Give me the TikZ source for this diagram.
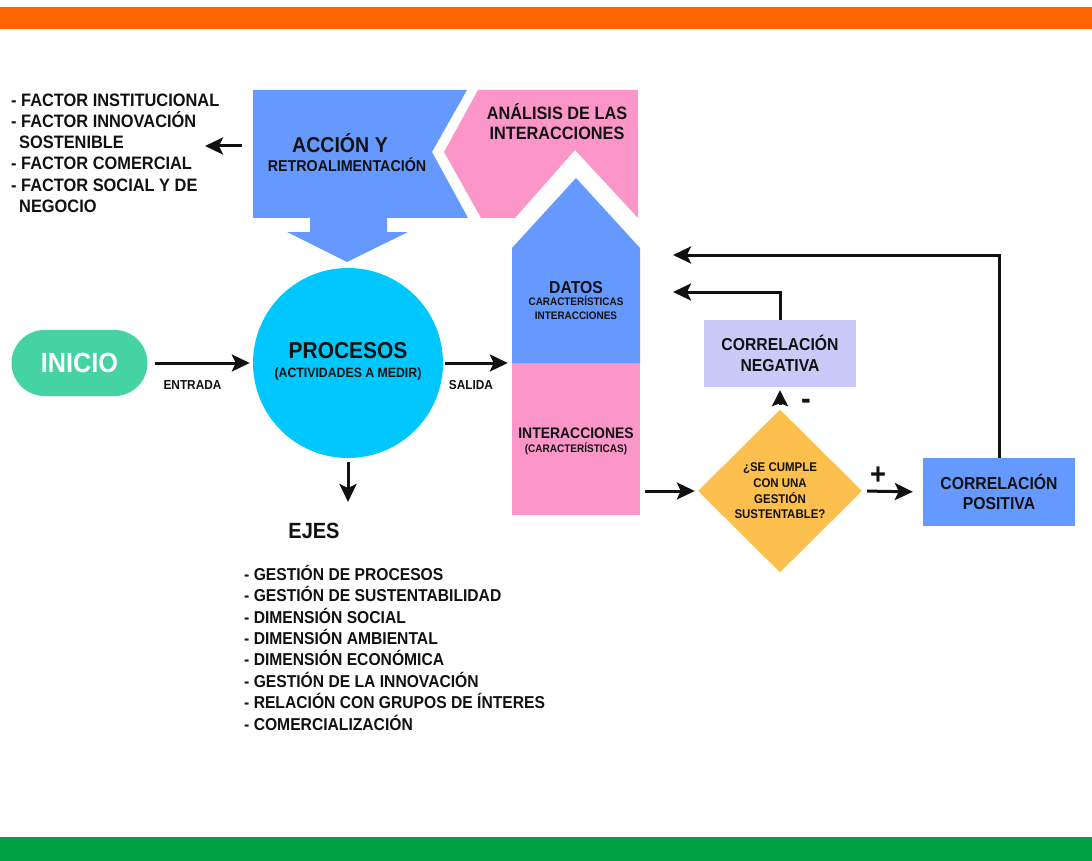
\documentclass[tikz,border=0pt]{standalone}
\usepackage{fontspec}
\setmainfont{Liberation Sans}[FakeStretch=0.91]
\usetikzlibrary{shapes.geometric,arrows.meta}
\definecolor{barOrange}{HTML}{FF6600}
\definecolor{barGreen}{HTML}{00A045}
\definecolor{startC}{HTML}{46D3A4}
\definecolor{procC}{HTML}{00C8FF}
\definecolor{blueC}{HTML}{6699FF}
\definecolor{pinkC}{HTML}{FC96C8}
\definecolor{lavC}{HTML}{CACAF8}
\definecolor{diaC}{HTML}{FDC04F}
\definecolor{inkC}{HTML}{111111}
\newcommand{\fsz}[2]{\fontsize{#1}{#2}\selectfont}
\begin{document}
\begin{tikzpicture}[x=1pt,y=-1pt,
  txt/.style={inner sep=0pt, anchor=base, text=inkC, font=\bfseries},
  ltxt/.style={inner sep=0pt, anchor=base west, text=inkC, font=\bfseries\fsz{18}{21}},
  arr/.style={draw=inkC, line width=3pt, -{Stealth[length=18pt,width=17pt,inset=4pt]}},
  fbline/.style={draw=inkC, line width=3pt, -{Stealth[length=18pt,width=17pt,inset=4pt]}},
  box/.style={rectangle, inner sep=0pt, align=center, text=inkC, font=\bfseries\fsz{17.3}{20.5}},
  ghost/.style={rectangle, inner sep=0pt, draw=none}]
\useasboundingbox (0,0) rectangle (1092,861);
% bars
\fill[barOrange] (0,7) rectangle (1092,29);
\fill[barGreen] (0,837) rectangle (1092,861);

% Accion y retroalimentacion shape
\fill[blueC] (253,90) -- (467,90) -- (432,152) -- (468,218) -- (387,218) -- (387,232)
  -- (408,232) -- (347,262) -- (287,232) -- (310,232) -- (310,218) -- (253,218) -- cycle;
\node[ghost, minimum width=215pt, minimum height=128pt] (accion) at (360.5,154) {};
\node[txt, font=\bfseries\fsz{21.5}{24}] (accT1) at (340,152.7) {ACCIÓN Y};
\node[txt, font=\bfseries\fsz{15.7}{18}] (accT2) at (347,171.6) {RETROALIMENTACIÓN};

% Analisis de las interacciones shape
\fill[pinkC] (478,90) -- (638,90) -- (638,218) -- (575,150) -- (515,218) -- (481,218)
  -- (444,152) -- cycle;
\node[txt, font=\bfseries\fsz{17.9}{20}] (anaT1) at (557,119.9) {ANÁLISIS DE LAS};
\node[txt, font=\bfseries\fsz{17.9}{20}] (anaT2) at (557,139.9) {INTERACCIONES};

% Datos / interacciones column
\fill[pinkC] (512,363) rectangle (640,515);
\fill[blueC] (512,363) -- (512,248) -- (576,178) -- (640,248) -- (640,363) -- cycle;
\node[ghost, minimum width=128pt, minimum height=337pt] (datoscol) at (576,346.5) {};
\node[txt, font=\bfseries\fsz{17.3}{20}] (datT1) at (576,293.7) {DATOS};
\node[txt, font=\bfseries\fsz{10.9}{12}] (datT2) at (576,305.9) {CARACTERÍSTICAS};
\node[txt, font=\bfseries\fsz{10.9}{12}] (datT3) at (576,319.4) {INTERACCIONES};
\node[txt, font=\bfseries\fsz{15.3}{18}] (intT1) at (576,438) {INTERACCIONES};
\node[txt, font=\bfseries\fsz{11}{13}] (intT2) at (576,452.5) {(CARACTERÍSTICAS)};

% factors list
\foreach \t [count=\i from 0] in {- FACTOR INSTITUCIONAL, - FACTOR INNOVACIÓN,
  \hspace*{8pt}SOSTENIBLE, - FACTOR COMERCIAL, - FACTOR SOCIAL Y DE, \hspace*{8pt}NEGOCIO}
  \node[ltxt] (fac\i) at (11,106.4+21.2*\i) {\t};
\coordinate (factarr) at (205,146);
\draw[arr, shorten <=11pt] (accion.west |- factarr) -- (factarr);

% Inicio
\node[rectangle, rounded corners=33pt, fill=startC, minimum width=136pt, minimum height=66pt,
  inner sep=0pt, text=white, font=\bfseries\fsz{27.7}{30}] (inicio) at (79.5,363) {INICIO};

% Procesos
\node[circle, fill=procC, minimum size=190pt, inner sep=0pt] (procesos) at (348,363) {};
\node[txt, font=\bfseries\fsz{23}{26}] (procT1) at (348,358.2) {PROCESOS};
\node[txt, font=\bfseries\fsz{13.5}{16}] (procT2) at (348,377.8) {(ACTIVIDADES A MEDIR)};

\draw[arr, shorten <=7pt, shorten >=3pt] (inicio.east) -- (procesos.west);
\node[txt, font=\bfseries\fsz{13}{15}] (entrada) at (192.5,389.2) {ENTRADA};
\draw[arr, shorten <=2pt, shorten >=4pt] (procesos.east) -- (procesos.east -| datoscol.west);
\node[txt, font=\bfseries\fsz{13}{15}] (salida) at (471,389.2) {SALIDA};

% Ejes
\coordinate (ejesarr) at (348,502);
\draw[arr, shorten <=4pt] (procesos.south) -- (ejesarr);
\node[txt, font=\bfseries\fsz{22}{24}] (ejes) at (314,538.4) {EJES};
\foreach \t [count=\i from 0] in {- GESTIÓN DE PROCESOS, - GESTIÓN DE SUSTENTABILIDAD,
  - DIMENSIÓN SOCIAL, - DIMENSIÓN AMBIENTAL, - DIMENSIÓN ECONÓMICA,
  - GESTIÓN DE LA INNOVACIÓN, - RELACIÓN CON GRUPOS DE ÍNTERES, - COMERCIALIZACIÓN}
  \node[ltxt, font=\bfseries\fsz{17.2}{20}] (eje\i) at (244,580.2+21.4*\i) {\t};

% Decision
\node[diamond, fill=diaC, minimum width=164pt, minimum height=163pt, inner sep=0pt,
  align=center, text=inkC, font=\bfseries\fsz{12.6}{15.7}] (decision) at (780,491)
  {¿SE CUMPLE\\CON UNA\\GESTIÓN\\SUSTENTABLE?};
\draw[arr, shorten <=5pt, shorten >=3pt] (decision.west -| datoscol.east) -- (decision.west);

% Correlations
\node[box, fill=lavC, minimum width=152pt, minimum height=67pt] (neg) at (780,353.5)
  {CORRELACIÓN\\NEGATIVA};
\node[box, fill=blueC, minimum width=152pt, minimum height=68pt] (pos) at (999,492)
  {CORRELACIÓN\\POSITIVA};
\draw[draw=inkC, line width=3pt, -{Stealth[length=16pt,width=16pt,inset=3pt]},
  shorten <=4pt, shorten >=3pt] (decision.north) -- (neg.south);
\node[inner sep=0pt, text=inkC, font=\bfseries\fsz{32}{34}] (minus) at (806,404) {-};
\draw[arr, shorten <=5pt, shorten >=10pt] (decision.east) -- (pos.west);
\node[inner sep=0pt, text=inkC, font=\bfseries\fsz{30}{32}] (plus) at (878,476) {+};

% feedback lines
\coordinate (fb1) at (673,292);
\coordinate (fb2) at (673,255);
\draw[fbline] (neg.north) |- (fb1);
\draw[fbline] (pos.north) |- (fb2);
\end{tikzpicture}
\end{document}
